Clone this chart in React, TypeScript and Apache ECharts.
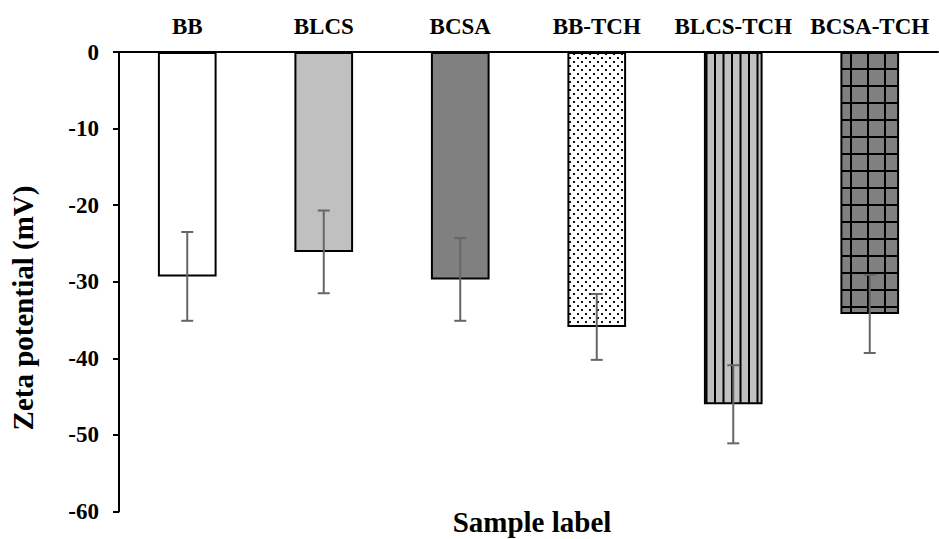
import React, { useEffect, useRef } from "react";
import * as echarts from "echarts";

const categories = ["BB", "BLCS", "BCSA", "BB-TCH", "BLCS-TCH", "BCSA-TCH"];
const zetaMeans = [-29.3, -26.1, -29.7, -35.9, -46.0, -34.2];
const zetaErrors = [5.8, 5.4, 5.4, 4.3, 5.1, 5.1];
const yTicks = { min: -60, max: 0, interval: 10 };

const FONT = "'Liberation Serif', 'Times New Roman', serif";

function makeCanvas(w: number, h: number, draw: (c: CanvasRenderingContext2D) => void) {
  const cv = document.createElement("canvas");
  cv.width = w;
  cv.height = h;
  const ctx = cv.getContext("2d")!;
  draw(ctx);
  return cv;
}

export default function App() {
  const ref = useRef<HTMLDivElement>(null);
  useEffect(() => {
    if (!ref.current) return;
    const chart = echarts.init(ref.current, undefined, { renderer: "svg" });

    const dots = makeCanvas(8, 8, (c) => {
      c.fillStyle = "#ffffff";
      c.fillRect(0, 0, 8, 8);
      c.fillStyle = "#111";
      c.fillRect(1, 1, 2, 2);
      c.fillRect(5, 5, 2, 2);
    });
    const vlines = makeCanvas(17, 4, (c) => {
      c.fillStyle = "#c0c0c0";
      c.fillRect(0, 0, 17, 4);
      c.fillStyle = "#000";
      c.fillRect(0, 0, 2, 4);
      c.fillRect(8.5, 0, 2, 4);
    });
    const grid = makeCanvas(17, 17, (c) => {
      c.fillStyle = "#808080";
      c.fillRect(0, 0, 17, 17);
      c.fillStyle = "#000";
      c.fillRect(0, 0, 17, 2);
      c.fillRect(0, 0, 2, 17);
    });

    const fills: any[] = [
      "#ffffff",
      "#c0c0c0",
      "#808080",
      { image: dots, repeat: "repeat" },
      { image: vlines, repeat: "repeat", x: 2 },
      { image: grid, repeat: "repeat", x: 4, y: 1 },
    ];

    const barData = zetaMeans.map((v, i) => ({
      value: v,
      itemStyle: { color: fills[i], borderColor: "#000", borderWidth: 2 },
    }));

    const errData = zetaMeans.map((v, i) => [i, v, zetaErrors[i]]);

    chart.setOption({
      animation: false,
      grid: { left: 119, right: 1, top: 52, bottom: 27.5 },
      xAxis: {
        type: "category",
        position: "top",
        data: categories,
        axisLine: { show: true, lineStyle: { color: "#000", width: 2 } },
        axisTick: { show: false },
        axisLabel: {
          margin: 14,
          color: "#000",
          fontFamily: FONT,
          fontWeight: "bold",
          fontSize: 23,
          interval: 0,
        },
      },
      yAxis: {
        type: "value",
        min: yTicks.min,
        max: yTicks.max,
        interval: yTicks.interval,
        axisLine: { show: true, lineStyle: { color: "#000", width: 2 } },
        axisTick: { show: true, inside: false, length: 6, lineStyle: { color: "#000", width: 2 } },
        splitLine: { show: false },
        axisLabel: {
          margin: 20,
          color: "#000",
          fontFamily: FONT,
          fontWeight: "bold",
          fontSize: 23,
        },
      },
      graphic: [
        {
          type: "text",
          x: 23,
          y: 308,
          rotation: Math.PI / 2,
          style: {
            text: "Zeta potential (mV)",
            font: `bold 29px ${FONT}`,
            fill: "#000",
            textAlign: "center",
            textVerticalAlign: "middle",
          },
        },
        {
          type: "text",
          x: 532,
          y: 522,
          style: {
            text: "Sample label",
            font: `bold 29px ${FONT}`,
            fill: "#000",
            textAlign: "center",
            textVerticalAlign: "middle",
          },
        },
      ],
      series: [
        {
          type: "bar",
          data: barData,
          barWidth: "43%",
        },
        {
          type: "custom",
          z: 10,
          data: errData,
          renderItem: (params: any, api: any) => {
            const x = api.value(0);
            const m = api.value(1);
            const e = api.value(2);
            const top = api.coord([x, m + e]);
            const bot = api.coord([x, m - e]);
            const half = 6;
            const style = { stroke: "#666666", lineWidth: 2 };
            return {
              type: "group",
              children: [
                { type: "line", shape: { x1: top[0], y1: top[1], x2: bot[0], y2: bot[1] }, style },
                { type: "line", shape: { x1: top[0] - half, y1: top[1], x2: top[0] + half, y2: top[1] }, style },
                { type: "line", shape: { x1: bot[0] - half, y1: bot[1], x2: bot[0] + half, y2: bot[1] }, style },
              ],
            };
          },
        },
      ],
    });
    return () => chart.dispose();
  }, []);
  return (
    <div
      ref={ref}
      style={{ position: "absolute", left: 0, top: 0, width: 939, height: 539, background: "#fff" }}
    />
  );
}
